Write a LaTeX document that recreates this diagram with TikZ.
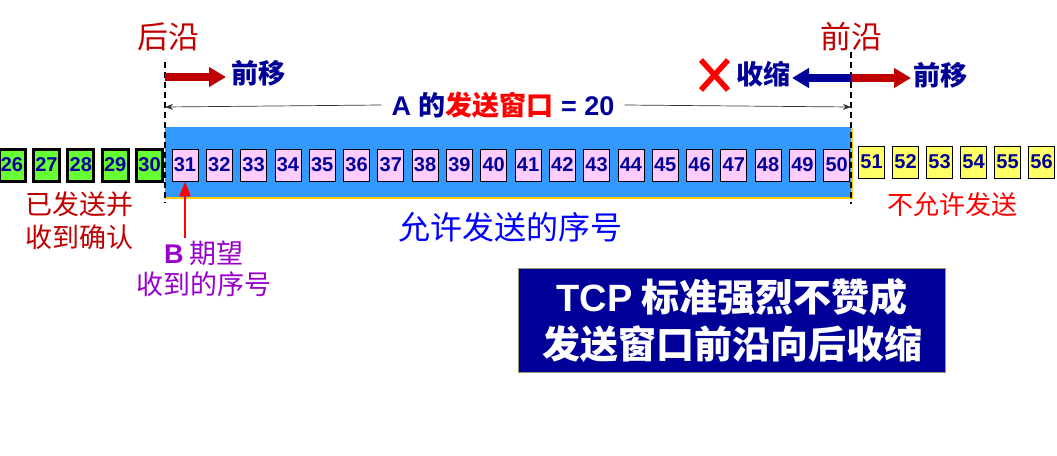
\documentclass[tikz,border=0pt]{standalone}
\usepackage{fontspec}
\setmainfont{Liberation Sans}
\newfontfamily\cjk{Noto Sans CJK SC}
\usetikzlibrary{arrows.meta,positioning}

\definecolor{DeepRed}{RGB}{192,0,0}
\definecolor{NavyText}{RGB}{0,0,153}
\definecolor{PureRed}{RGB}{255,0,0}
\definecolor{PureBlue}{RGB}{0,0,255}
\definecolor{Violet}{RGB}{153,0,204}
\definecolor{AckGreen}{RGB}{102,255,51}
\definecolor{WinPink}{RGB}{255,204,255}
\definecolor{NoYellow}{RGB}{255,255,102}
\definecolor{WinBlue}{RGB}{51,153,255}
\definecolor{EdgeOrange}{RGB}{255,204,0}
\definecolor{BoxNavy}{RGB}{0,0,153}
\definecolor{BoxEdge}{RGB}{153,153,102}

\newcommand{\fs}[1]{\fontsize{#1}{#1}\selectfont}

\begin{document}
\begin{tikzpicture}[x=1pt, y=-1pt,
	cell/.style={draw=black, line width=0.8pt, minimum width=26pt, minimum height=32pt, inner sep=0pt, font=\fs{20}\bfseries, text=NavyText},
	acked/.style={cell, fill=AckGreen, line width=3pt},
	usable/.style={cell, fill=WinPink},
	blocked/.style={cell, fill=NoYellow},
	edge/.style={dashed, line width=1.8pt, dash pattern=on 6pt off 4pt},
	fatarrow/.style={line width=8pt, -{Triangle[length=17pt,width=19pt]}},
	dimarrow/.style={line width=0.7pt, black!80, -{Stealth[length=8pt,width=6pt]}},
	lbl/.style={inner sep=0pt, font=\cjk\fs{#1}},
	]
	\useasboundingbox (0,0) rectangle (1057,455);

	% window
	\fill[WinBlue] (165,127) rectangle (852,198);
	\draw[EdgeOrange, line width=2.5pt] (165,198) -- (852,198) -- (852,128);

	% cells
	\foreach \n in {26,...,30}
		\node[acked] (c\n) at ({12+(\n-26)*34.4},165) {\n};
	\foreach \n in {31,...,50}
		\node[usable] (c\n) at ({185+(\n-31)*34.3},165) {\n};
	\foreach \n in {51,...,56}
		\node[blocked] (c\n) at ({871.5+(\n-51)*34},162) {\n};

	% edges
	\coordinate (reartop) at (165,62);
	\coordinate (rearbot) at (165,203);
	\coordinate (fronttop) at (851,52);
	\coordinate (frontbot) at (851,204);
	\draw[edge] (reartop) -- (rearbot);
	\draw[edge] (fronttop) -- (frontbot);

	\node[lbl=31, text=DeepRed] (rear) at (168,37) {后沿};
	\node[lbl=31, text=DeepRed] (front) at (851,37) {前沿};

	% moves
	\coordinate (rearmove) at (165,77);
	\coordinate (rearmoveend) at (226,77);
	\coordinate (frontmove) at (851,78);
	\coordinate (frontfwd) at (911,78);
	\coordinate (frontback) at (792,78);
	\draw[fatarrow, DeepRed] (rearmove) -- (rearmoveend);
	\draw[fatarrow, DeepRed] (frontmove) -- (frontfwd);
	\draw[fatarrow, NavyText] (frontmove) -- (frontback);
	\node[lbl=27, font=\cjk\bfseries\fs{27}, text=NavyText, anchor=west] (fwdA) at (231,73) {前移};
	\node[lbl=27, font=\cjk\bfseries\fs{27}, text=NavyText, anchor=west] (fwdB) at (913,75) {前移};
	\node[lbl=27, font=\cjk\bfseries\fs{27}, text=NavyText, anchor=east] (shrink) at (791,74) {收缩};
	\draw[PureRed, line width=5.5pt] (701,60) -- (728,90) (728,60) -- (701,90);

	% window size
	\coordinate (dimleft) at (165,107);
	\coordinate (dimright) at (851,107);
	\node[inner xsep=10pt, inner ysep=0pt, font=\bfseries\fs{27}, text=NavyText] (wsize) at (503,105)
		{A {\cjk 的}{\cjk\color{PureRed}发送窗口} = 20};
	\draw[dimarrow] (wsize.west) -- (dimleft);
	\draw[dimarrow] (wsize.east) -- (dimright);

	% lower labels
	\node[lbl=27, text=DeepRed, align=center] (acklbl) at (79,221) {已发送并\\[6pt]收到确认};
	\node[lbl=32, text=PureBlue] (oklbl) at (510,227) {允许发送的序号};
	\node[lbl=26, text=PureRed] (nolbl) at (952,205) {不允许发送};
	\node[lbl=27, text=Violet, align=center] (expect) at (204,269)
		{{\rmfamily\bfseries B} 期望\\[4pt]收到的序号};
	\coordinate (expectarrow) at (185,238);
	\draw[PureRed, line width=2.5pt, -{Triangle[length=15pt,width=11pt]}] (expectarrow) -- (c31.south);

	% note
	\node[draw=BoxEdge, line width=1pt, fill=BoxNavy, text=white, minimum width=427pt, minimum height=104pt,
		align=center, font=\cjk\bfseries\fs{38}] (note) at (732,320)
		{{\rmfamily TCP} 标准强烈不赞成\\[9pt]发送窗口前沿向后收缩};
\end{tikzpicture}
\end{document}
